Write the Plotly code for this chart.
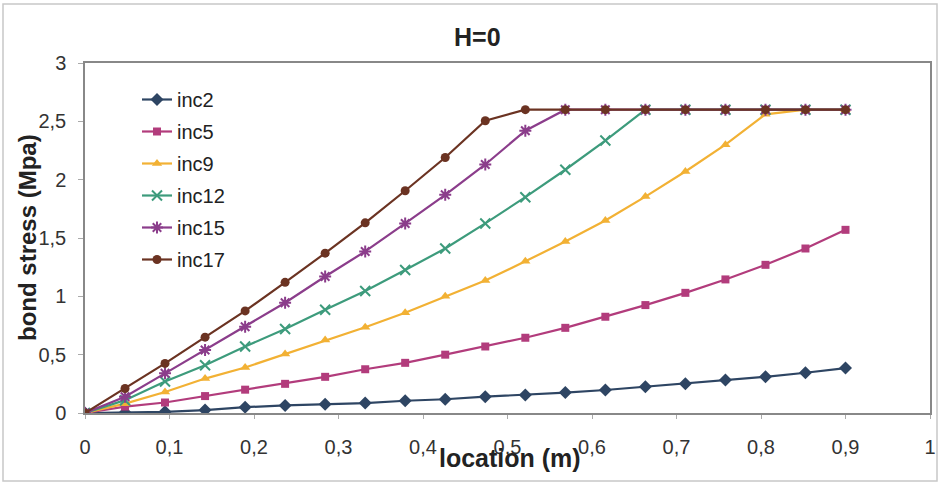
import plotly.graph_objects as go

location = [0, 0.0474, 0.0947, 0.1421, 0.1895, 0.2368, 0.2842, 0.3316, 0.3789, 0.4263,
            0.4737, 0.5211, 0.5684, 0.6158, 0.6632, 0.7105, 0.7579, 0.8053, 0.8526, 0.9]

inc2 = [0, 0.005, 0.01, 0.025, 0.05, 0.065, 0.075, 0.085, 0.105, 0.118,
        0.14, 0.155, 0.175, 0.197, 0.225, 0.25, 0.283, 0.31, 0.345, 0.385]
inc5 = [0, 0.055, 0.09, 0.145, 0.2, 0.25, 0.31, 0.375, 0.43, 0.5,
        0.57, 0.645, 0.73, 0.825, 0.925, 1.03, 1.145, 1.27, 1.41, 1.57]
inc9 = [0, 0.08, 0.18, 0.295, 0.39, 0.505, 0.625, 0.735, 0.86, 1.0,
        1.135, 1.3, 1.47, 1.65, 1.855, 2.07, 2.3, 2.56, 2.6, 2.6]
inc12 = [0, 0.11, 0.27, 0.41, 0.57, 0.72, 0.885, 1.045, 1.225, 1.41,
         1.625, 1.85, 2.085, 2.335, 2.6, 2.6, 2.6, 2.6, 2.6, 2.6]
inc15 = [0, 0.14, 0.34, 0.54, 0.74, 0.945, 1.17, 1.385, 1.625, 1.87,
         2.13, 2.42, 2.6, 2.6, 2.6, 2.6, 2.6, 2.6, 2.6, 2.6]
inc17 = [0, 0.21, 0.425, 0.65, 0.875, 1.12, 1.37, 1.63, 1.905, 2.19,
         2.505, 2.6, 2.6, 2.6, 2.6, 2.6, 2.6, 2.6, 2.6, 2.6]

series = [
    ("inc2", inc2, "#2E4563", "diamond", 10),
    ("inc5", inc5, "#B23C7C", "square", 8),
    ("inc9", inc9, "#F2B134", "triangle-up", 9),
    ("inc12", inc12, "#3D9B7C", "x-thin", 10),
    ("inc15", inc15, "#8B3D8B", "asterisk", 10),
    ("inc17", inc17, "#6B3322", "circle", 9),
]

FONT = "Liberation Sans, Arial, sans-serif"

fig = go.Figure()
for name, vals, color, sym, size in series:
    mk = dict(symbol=sym, size=size, color=color)
    if sym in ("x-thin", "asterisk"):
        mk["line"] = dict(color=color, width=2)
    fig.add_trace(go.Scatter(x=location, y=vals, name=name, mode="lines+markers",
                             legendgroup=name,
                             line=dict(color=color, width=2.2), marker=mk))

L, R, T, B = 85, 10, 63, 72
W, H = 940, 485
pw, ph = W - L - R, H - T - B

def px_x(p):
    return (p - L) / pw

def px_y(p):
    return (H - B - p) / ph

fig.update_layout(
    template="none",
    width=W, height=H, autosize=False,
    margin=dict(l=L, r=R, t=T, b=B),
    paper_bgcolor="white", plot_bgcolor="white",
    separators=",.",
    font=dict(family=FONT, size=20, color="#333333"),
    showlegend=True,
    legend=dict(x=px_x(137), y=px_y(80), xanchor="left", yanchor="top",
                bgcolor="rgba(0,0,0,0)", font=dict(size=20, color="#222222"),
                tracegroupgap=3),
    xaxis=dict(range=[0, 1], dtick=0.1, tick0=0, showgrid=False, zeroline=False,
               automargin=False,
               showline=True, linecolor="#888888", linewidth=1.5, mirror=True,
               ticks="outside", ticklen=4, tickcolor="#aaaaaa",
               ticklabelstandoff=11, tickfont=dict(size=20, color="#333333")),
    yaxis=dict(range=[0, 3], dtick=0.5, tick0=0, showgrid=False, zeroline=False,
               automargin=False,
               showline=True, linecolor="#888888", linewidth=1.5, mirror=True,
               ticks="outside", ticklen=5, tickcolor="#aaaaaa",
               ticklabelstandoff=8, tickfont=dict(size=20, color="#333333")),
    shapes=[dict(type="rect", xref="paper", yref="paper",
                 x0=px_x(3), x1=px_x(937), y0=px_y(481), y1=px_y(4),
                 line=dict(color="#c8c8c8", width=1.5), layer="below")],
    annotations=[
        dict(text="<b>H=0</b>", xref="paper", yref="paper", x=px_x(477), y=px_y(37),
             showarrow=False, font=dict(size=25, color="#222222"), xanchor="center", yanchor="middle"),
        dict(text="<b>location (m)</b>", xref="paper", yref="paper", x=px_x(510), y=px_y(458),
             showarrow=False, font=dict(size=25, color="#222222"), xanchor="center", yanchor="middle"),
        dict(text="<b>bond stress (Mpa)</b>", xref="paper", yref="paper", x=px_x(27), y=px_y(238),
             showarrow=False, textangle=-90, font=dict(size=24, color="#222222"),
             xanchor="center", yanchor="middle"),
    ],
)

fig.write_html("out.html",
               config={"displayModeBar": False, "responsive": False},
               post_script="document.body.style.margin='0px';document.body.style.overflow='hidden';")
